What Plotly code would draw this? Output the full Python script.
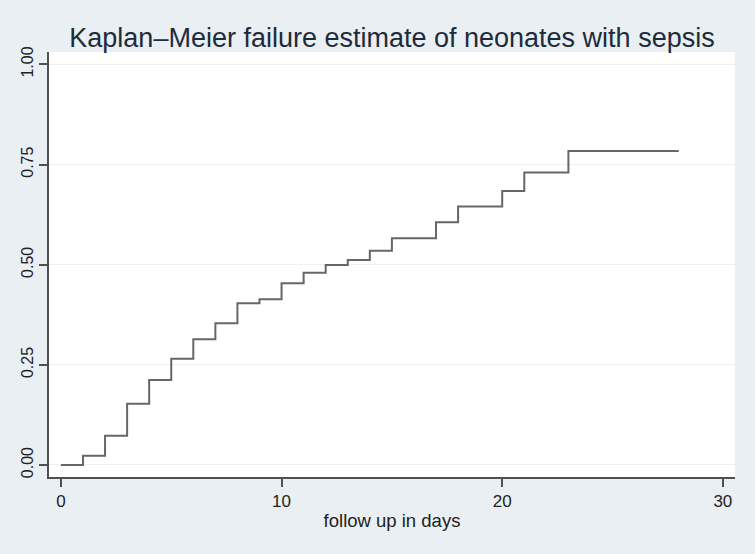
import plotly.graph_objects as go

# Kaplan-Meier failure estimate
days = [0, 1, 2, 3, 4, 5, 6, 7, 8, 9, 10, 11, 12, 13, 14, 15, 17, 18, 20, 21, 23, 28]
failure = [0.000, 0.023, 0.073, 0.153, 0.212, 0.265, 0.314, 0.354, 0.404, 0.414,
           0.454, 0.480, 0.499, 0.512, 0.535, 0.566, 0.606, 0.645, 0.684, 0.730,
           0.784, 0.784]

x_ticks = [0, 10, 20, 30]
y_ticks = [0, 0.25, 0.5, 0.75, 1.0]
y_labels = ["0.00", "0.25", "0.50", "0.75", "1.00"]

FONT = "Liberation Sans, Arial, sans-serif"
BG = "#e9eff2"

fig = go.Figure()
fig.add_trace(
    go.Scatter(
        x=days,
        y=failure,
        mode="lines",
        line=dict(shape="hv", color="#62686c", width=2),
        showlegend=False,
        hoverinfo="skip",
    )
)

fig.update_layout(
    width=755,
    height=554,
    paper_bgcolor=BG,
    plot_bgcolor="white",
    margin=dict(l=49, r=20, t=52, b=77),
    font=dict(family=FONT, color="#333333"),
    title=dict(
        text="Kaplan\u2013Meier failure estimate of neonates with sepsis",
        font=dict(size=27, color="#1e2b3c", family=FONT),
        x=0.5,
        xref="paper",
        xanchor="center",
        y=0.933,
        yref="container",
        yanchor="middle",
    ),
)

fig.update_xaxes(
    range=[-0.54, 30.55],
    tickvals=x_ticks,
    ticks="outside",
    ticklen=8,
    tickwidth=1.5,
    tickcolor="#505050",
    tickfont=dict(size=17, color="#222222"),
    showline=True,
    linecolor="#505050",
    linewidth=1.5,
    showgrid=False,
    zeroline=False,
    title=dict(text="follow up in days", font=dict(size=18.5, color="#222222"), standoff=4),
)

fig.update_yaxes(
    range=[-0.030, 1.031],
    tickvals=y_ticks,
    ticktext=y_labels,
    tickangle=-90,
    ticks="outside",
    ticklen=8,
    tickwidth=1.5,
    tickcolor="#505050",
    tickfont=dict(size=16, color="#222222"),
    showline=True,
    linecolor="#505050",
    linewidth=1.5,
    showgrid=True,
    gridcolor="#edf1f3",
    gridwidth=1,
    zeroline=False,
)

# drop the browser's default page margin so the figure sits at the window corner
fig.write_html(
    "out.html",
    config={"displayModeBar": False},
    post_script="document.body.style.margin='0';document.body.style.background='%s';" % BG,
)
